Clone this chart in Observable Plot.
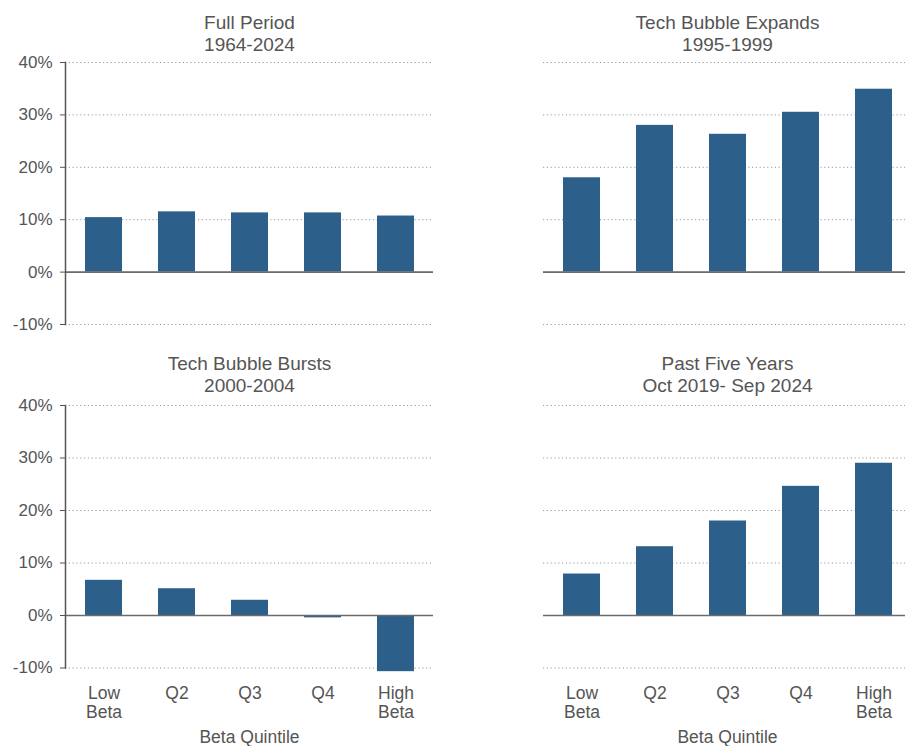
<!DOCTYPE html>
<html>
<head>
<meta charset="utf-8">
<script src="https://cdn.jsdelivr.net/npm/d3@7"></script>
<script src="https://cdn.jsdelivr.net/npm/@observablehq/plot@0.6"></script>
<style>
  html, body { margin: 0; padding: 0; background: #fff; overflow: hidden; }
  #wrap { position: relative; width: 905px; height: 746px; overflow: hidden; }
  #wrap > div { position: absolute; width: 443px; }
  #wrap svg { overflow: visible; max-width: none !important; }
</style>
</head>
<body>
<div id="wrap"></div>
<script>
// ---- data ----
const categories = ["Low Beta", "Q2", "Q3", "Q4", "High Beta"];
const fullPeriod = [10.4, 11.5, 11.3, 11.3, 10.7];
const bubbleExpands = [18.0, 28.0, 26.3, 30.5, 34.9];
const bubbleBursts = [6.7, 5.1, 2.9, -0.45, -10.7];
const pastFiveYears = [7.9, 13.1, 18.0, 24.6, 29.0];
const yTicks = [-10, 0, 10, 20, 30, 40];
const titles = [
  "Full Period\n1964-2024",
  "Tech Bubble Expands\n1995-1999",
  "Tech Bubble Bursts\n2000-2004",
  "Past Five Years\nOct 2019- Sep 2024"
];
const xLabel = "Beta Quintile";

const panels = [
  {values: fullPeriod, title: titles[0], col: 0, row: 0},
  {values: bubbleExpands, title: titles[1], col: 1, row: 0},
  {values: bubbleBursts, title: titles[2], col: 0, row: 1},
  {values: pastFiveYears, title: titles[3], col: 1, row: 1}
];

const textColor = "#555";
const barColor = "#2c5f8a";
const font = "'Liberation Sans', Arial, sans-serif";
const wrap = document.getElementById("wrap");

for (const p of panels) {
  const data = categories.map((c, i) => ({cat: c, value: p.values[i]}));
  const top = p.row === 0;
  const left = p.col === 0;
  const marginTop = top ? 62 : 65;
  const height = top ? 340 : 406;
  const marginBottom = top ? 16 : 78.5;
  const marks = [
    Plot.gridY(yTicks, {stroke: "#999", strokeOpacity: 1, strokeWidth: 1, strokeDasharray: "1.2,2.6"}),
    Plot.barY(data, {x: "cat", y: "value", fill: barColor}),
    Plot.ruleY([0], {stroke: "#6b6b6b", strokeWidth: 1.6}),
    Plot.text([p.title], {text: d => d, frameAnchor: "top", lineAnchor: "bottom", dy: top ? -12 : -13.3,
      fontSize: 19, lineHeight: 22 / 19, fill: textColor})
  ];
  if (left) {
    marks.push(Plot.frame({anchor: "left", stroke: "#555", strokeWidth: 1.5}));
    marks.push(Plot.axisY(yTicks, {tickSize: 5, tickPadding: 8, fontSize: 17, fill: textColor, stroke: "#555",
      label: null, tickFormat: d => d + "%"}));
  }
  if (!top) {
    marks.push(Plot.axisX({tickSize: 0, tickPadding: 18, fontSize: 17.5, lineHeight: 1.08, fill: textColor,
      label: null, tickFormat: d => d.replace(" ", "\n")}));
    marks.push(Plot.text([xLabel], {text: d => d, frameAnchor: "bottom", lineAnchor: "bottom", dy: 74.5,
      fontSize: 17.5, fill: textColor}));
  }
  const chart = Plot.plot({
    width: 443,
    height,
    marginLeft: 65,
    marginRight: 10,
    marginTop,
    marginBottom,
    style: {fontFamily: font, background: "transparent", color: textColor},
    x: {domain: categories, paddingInner: 0.5, paddingOuter: 0.25, axis: null, label: null},
    y: {domain: [-10, 40], axis: null, label: null},
    marks
  });
  const holder = document.createElement("div");
  holder.style.left = (left ? 0 : 478) + "px";
  holder.style.top = (top ? 0 : 340) + "px";
  holder.appendChild(chart);
  wrap.appendChild(holder);
}
</script>
</body>
</html>
